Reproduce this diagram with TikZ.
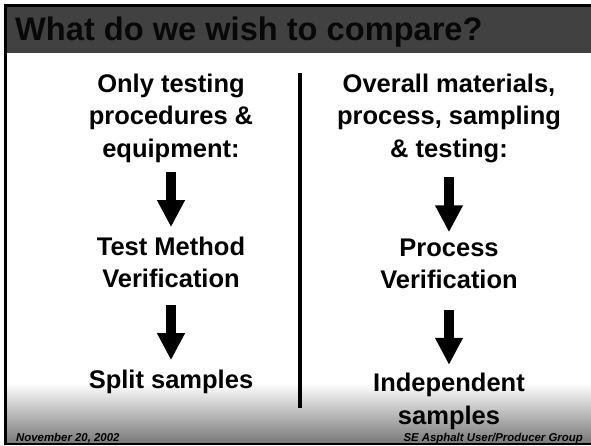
\documentclass[tikz,border=0pt]{standalone}
\usepackage{fontspec}
\setmainfont{Liberation Sans}
\usetikzlibrary{arrows.meta,positioning}
\definecolor{tittelgraa}{HTML}{414141}
\definecolor{bunngraa}{HTML}{7A7A7A}
\tikzset{
%Define standard arrow tip
    >={Triangle[width=26pt,length=27pt]},
%Define style for text blocks
    blokk/.style={
           align=center,
           inner sep=0pt,
           font=\fontsize{25.5}{32.5}\selectfont\bfseries},
    tittel/.style={
           anchor=base west,
           inner sep=0pt,
           text=black!97,
           font=\fontsize{32.6}{38}\selectfont\bfseries},
    fot/.style={
           inner sep=0pt,
           font=\fontsize{11.4}{13}\selectfont\bfseries\itshape},
% Define arrow style
    pilned/.style={
           ->,
           line width=10pt}
}
\begin{document}
\begin{tikzpicture}[x=1pt,y=-1pt]
\useasboundingbox (0,0) rectangle (591,446);
% slide frame
\fill[white] (0,0) rectangle (591,446);
\shade[top color=white, bottom color=bunngraa] (7,383) rectangle (591,442.5);
\fill[tittelgraa] (7,7) rectangle (591,53);
\fill[black] (4,4) rectangle (591,7);
\fill[black] (4,4) rectangle (7,445);
\fill[black] (4,442.5) rectangle (591,444.5);
\node[tittel] (tittel) at (15,40.5) {What do we wish to compare?};
% left column
\node[blokk, anchor=north] (kun) at (171,73.4) {Only testing\\procedures \&\\equipment:};
\node[blokk, below=74pt of kun] (metode) {Test Method\\Verification};
\node[blokk, below=81.4pt of metode] (splitt) {Split samples};
% right column
\node[blokk, anchor=north] (alt) at (449,73.4) {Overall materials,\\process, sampling\\\& testing:};
\node[blokk, below=76pt of alt] (prosess) {Process\\Verification};
\node[blokk, below=83.9pt of prosess] (uavh) {Independent\\samples};
% divider
\draw[line width=4pt] (300,73) -- (300,408);
% arrows
\draw[pilned, shorten <=9.6pt, shorten >=9.4pt] (kun.south) -- (metode.north);
\draw[pilned, shorten <=17pt, shorten >=9.4pt] (metode.south) -- (splitt.north);
\draw[pilned, shorten <=14.6pt, shorten >=6.4pt] (alt.south) -- (prosess.north);
\draw[pilned, shorten <=20.5pt, shorten >=8.4pt] (prosess.south) -- (uavh.north);
% footer
\node[fot, anchor=base west] (dato) at (16,441) {November 20, 2002};
\node[fot, anchor=base east] (gruppe) at (583,441) {SE Asphalt User/Producer Group};
\end{tikzpicture}
\end{document}
